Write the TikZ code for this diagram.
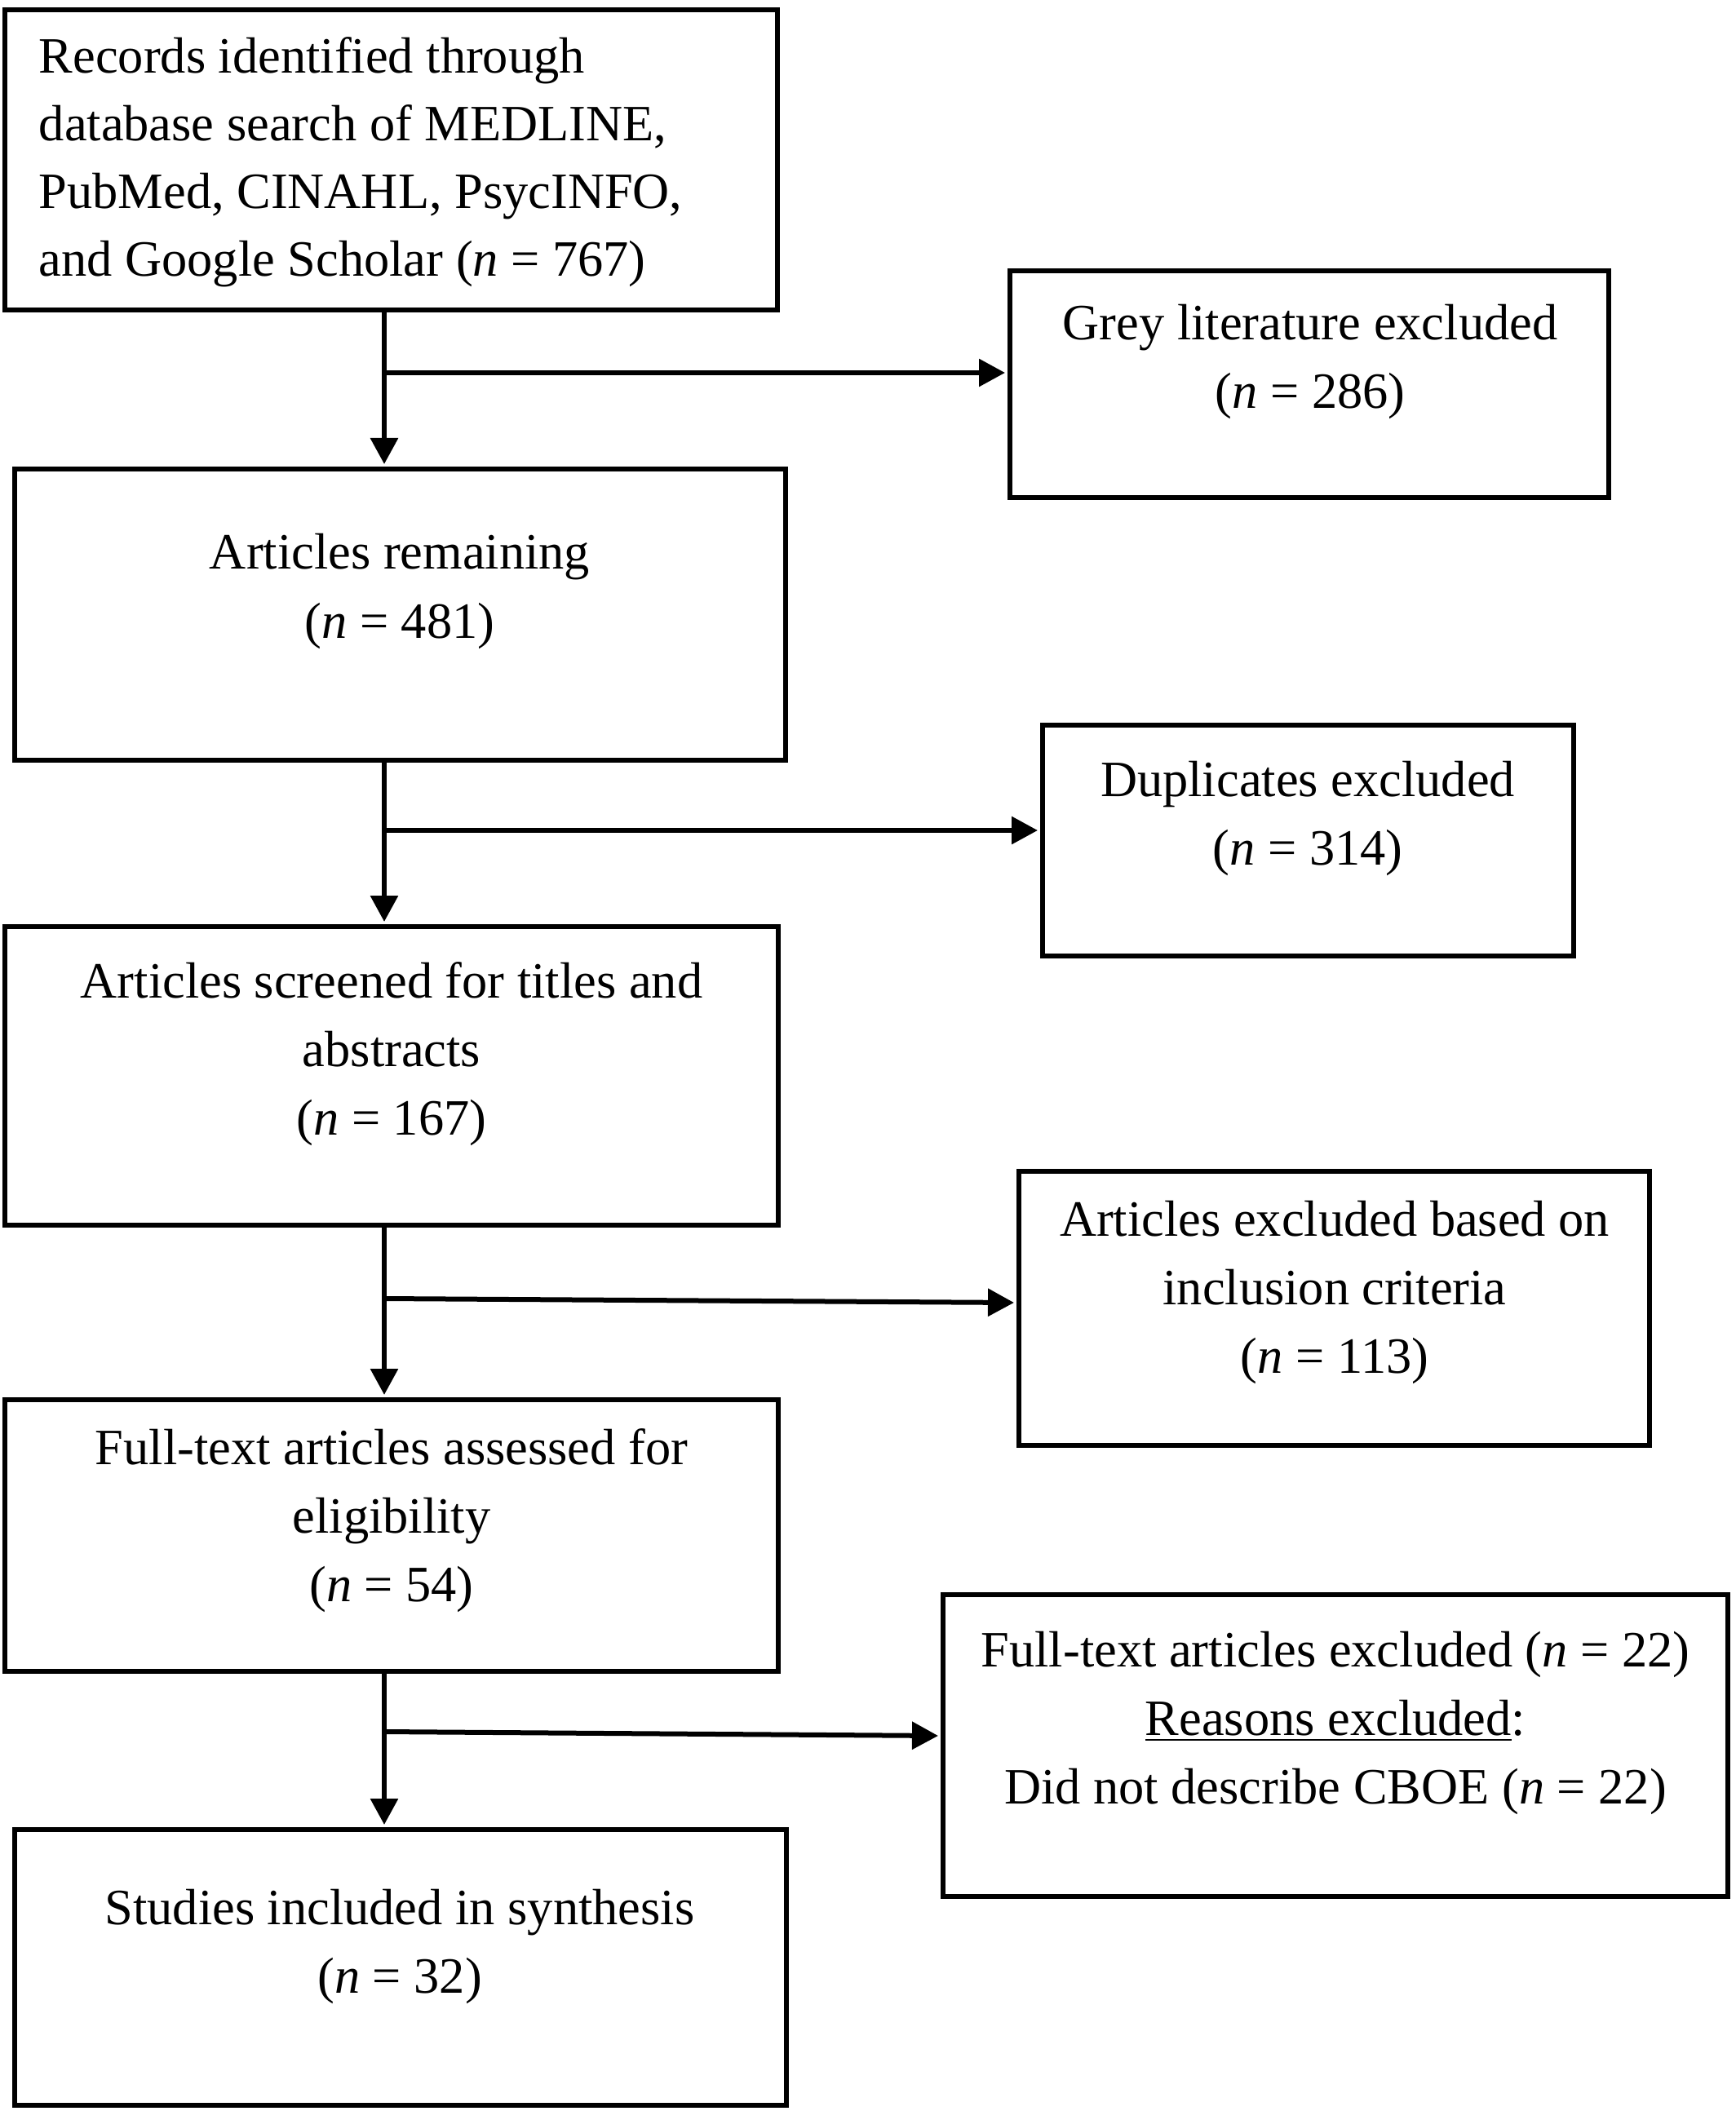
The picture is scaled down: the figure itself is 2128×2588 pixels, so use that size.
\documentclass[tikz,border=0pt]{standalone}
\usepackage{fontspec}
\setmainfont{Liberation Serif}
\usetikzlibrary{arrows.meta,fit}
\newcommand{\clines}[1]{\begin{tabular}[t]{@{}c@{}}#1\end{tabular}}
\newcommand{\leftlines}[1]{\begin{tabular}[t]{@{}l@{}}#1\end{tabular}}
\begin{document}
\begin{tikzpicture}[x=0.25pt,y=-0.25pt,
  box/.style={draw, line width=1.5pt, inner sep=0pt, rectangle},
  txt/.style={font=\fontsize{15.6}{21}\selectfont, inner sep=0pt, anchor=base},
  conn/.style={line width=1.5pt},
  arr/.style={conn, shorten >=0.75pt, -{Triangle[length=8pt,width=8.25pt]}}]
\useasboundingbox (0,0) rectangle (2128,2588);
% boxes
\node[box, fit={(6,12)(953,380)}] (b1) {};
\node[box, fit={(1238,332)(1972,610)}] (grey) {};
\node[box, fit={(18,575)(963,932)}] (b2) {};
\node[box, fit={(1278,889)(1929,1172)}] (dup) {};
\node[box, fit={(6,1136)(954,1502)}] (b3) {};
\node[box, fit={(1249,1436)(2022,1772)}] (excl) {};
\node[box, fit={(6,1716)(954,2049)}] (b4) {};
\node[box, fit={(1156,1955)(2118,2325)}] (ftex) {};
\node[box, fit={(18,2243)(964,2581)}] (b5) {};
% texts
\node[txt, anchor=base west, font=\fontsize{15.6}{20.7}\selectfont] (t1) at (47,90)
  {\leftlines{Records identified through\\database search of MEDLINE,\\PubMed, CINAHL, PsycINFO,\\and Google Scholar (\textit{n} = 767)}};
\node[txt] (tgrey) at (1606,417) {\clines{Grey literature excluded\\(\textit{n} = 286)}};
\node[txt] (t2) at (490,698) {\clines{Articles remaining\\(\textit{n} = 481)}};
\node[txt] (tdup) at (1603,976) {\clines{Duplicates excluded\\(\textit{n} = 314)}};
\node[txt] (t3) at (480,1223) {\clines{Articles screened for titles and\\abstracts\\(\textit{n} = 167)}};
\node[txt] (texcl) at (1636,1515) {\clines{Articles excluded based on\\inclusion criteria\\(\textit{n} = 113)}};
\node[txt] (t4) at (480,1795) {\clines{Full-text articles assessed for\\eligibility\\(\textit{n} = 54)}};
\node[txt] (tftex) at (1637,2043) {\clines{Full-text articles excluded (\textit{n} = 22)\\\underline{Reasons excluded}:\\Did not describe CBOE (\textit{n} = 22)}};
\node[txt] (t5) at (490,2359) {\clines{Studies included in synthesis\\(\textit{n} = 32)}};
% junctions
\coordinate (j1) at (471,457);
\coordinate (j2) at (471,1018);
\coordinate (j3) at (471,1592);
\coordinate (j4) at (471,2123);
% connectors
\draw[conn] (b1.south -| j1) -- (j1);
\draw[arr] (j1) -- (b2.north -| j1);
\draw[arr] (j1) -- (grey.west |- j1);
\draw[conn] (b2.south -| j2) -- (j2);
\draw[arr] (j2) -- (b3.north -| j2);
\draw[arr] (j2) -- (dup.west |- j2);
\draw[conn] (b3.south -| j3) -- (j3);
\draw[arr] (j3) -- (b4.north -| j3);
\draw[arr] (j3) -- ([yshift=1.75pt]excl.west);
\draw[conn] (b4.south -| j4) -- (j4);
\draw[arr] (j4) -- (b5.north -| j4);
\draw[arr] (j4) -- ([yshift=3pt]ftex.west);
\end{tikzpicture}
\end{document}
